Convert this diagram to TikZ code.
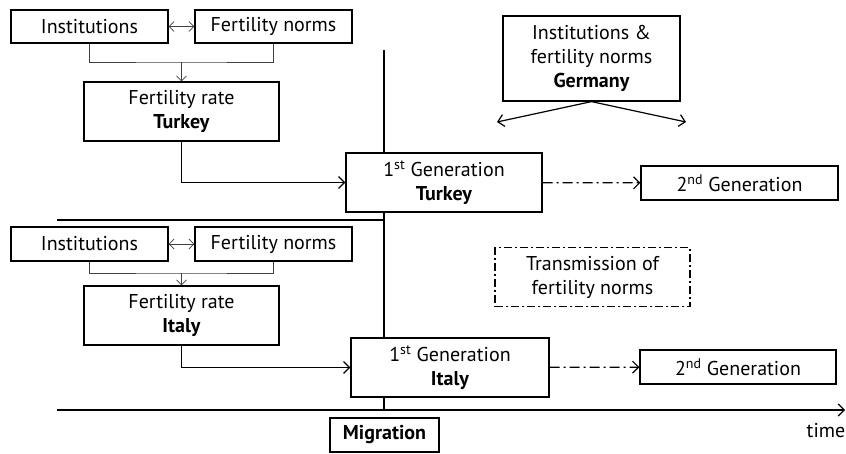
\documentclass[tikz,border=0pt]{standalone}
\usepackage{fontspec}
\setmainfont{PT Sans}
\usetikzlibrary{arrows,arrows.meta}
\tikzstyle{every picture}=[> = {Straight Barb[length=6pt,width=12pt]}]
\tikzset{
  box/.style={draw, line width=1.2pt, fill=white, align=center, inner sep=0pt},
  dashbox/.style={box, dash pattern=on 8pt off 3pt on 2pt off 3pt},
  link/.style={line width=0.7pt, black!75, > = {Straight Barb[length=5pt,width=10pt]}},
  flow/.style={line width=1.2pt},
  trans/.style={flow, dash pattern=on 10pt off 4pt on 2pt off 4pt},
}

\begin{document}
\begin{tikzpicture}[x=1pt,y=-1pt,font=\fontsize{20}{24}\selectfont]
    \useasboundingbox (0,0) rectangle (846,453);
    % timeline and dividers
    \coordinate (divtop) at (384,50);
    \coordinate (divbot) at (384,410);
    \coordinate (axisstart) at (57,410);
    \coordinate (axisend) at (845,410);
    \coordinate (sepstart) at (57,220);
    \coordinate (sepend) at (384,220);
    \draw[flow] (divtop) to (divbot);
    \draw[flow] (sepstart) to (sepend);
    \draw[flow,->] (axisstart) to (axisend);
    % Turkey
    \node[box, minimum width=157, minimum height=33] (inst1) at (89.5,26.5) {Institutions};
    \node[box, minimum width=157, minimum height=33] (norms1) at (273.5,26.5) {Fertility norms};
    \node[box, minimum width=195, minimum height=59] (rate1) at (181.5,111.5) {Fertility rate\\\textbf{Turkey}};
    \node[box, minimum width=196, minimum height=59] (first1) at (444,182.5) {1\textsuperscript{st} Generation\\\textbf{Turkey}};
    \node[box, minimum width=197, minimum height=34] (second1) at (739.5,183) {2\textsuperscript{nd} Generation};
    \coordinate (join1) at (181.5,62);
    \draw[link, <->] (inst1) to (norms1);
    \draw[link] (inst1.south) |- (join1) -| (norms1.south);
    \draw[link, ->] (join1) to (rate1);
    \draw[flow, ->] (rate1.south) |- (first1.west);
    \draw[trans, ->] (first1) to (second1);
    % Germany
    \node[box, minimum width=177, minimum height=85] (germany) at (591.5,58.5) {Institutions \&\\fertility norms\\\textbf{Germany}};
    \coordinate (leftend) at (497,122);
    \coordinate (rightend) at (686,122);
    \draw[flow, ->] (germany.south) to (leftend);
    \draw[flow, ->] (germany.south) to (rightend);
    \node[dashbox, minimum width=195, minimum height=59] (transmission) at (592.5,277) {Transmission of\\fertility norms};
    % Italy
    \node[box, minimum width=157, minimum height=34] (inst2) at (89.5,244) {Institutions};
    \node[box, minimum width=157, minimum height=34] (norms2) at (273.5,244) {Fertility norms};
    \node[box, minimum width=195, minimum height=59] (rate2) at (181.5,315.5) {Fertility rate\\\textbf{Italy}};
    \node[box, minimum width=198, minimum height=59] (first2) at (450,367.5) {1\textsuperscript{st} Generation\\\textbf{Italy}};
    \node[box, minimum width=196, minimum height=34] (second2) at (738,367) {2\textsuperscript{nd} Generation};
    \coordinate (join2) at (181.5,273);
    \draw[link, <->] (inst2) to (norms2);
    \draw[link] (inst2.south) |- (join2) -| (norms2.south);
    \draw[link, ->] (join2) to (rate2);
    \draw[flow, ->] (rate2.south) |- (first2.west);
    \draw[trans, ->] (first2) to (second2);
    % migration and time
    \node[box, minimum width=109, minimum height=34] (migration) at (384.5,435) {\textbf{Migration}};
    \node (time) at (826,431) {time};
  \end{tikzpicture}
\end{document}
